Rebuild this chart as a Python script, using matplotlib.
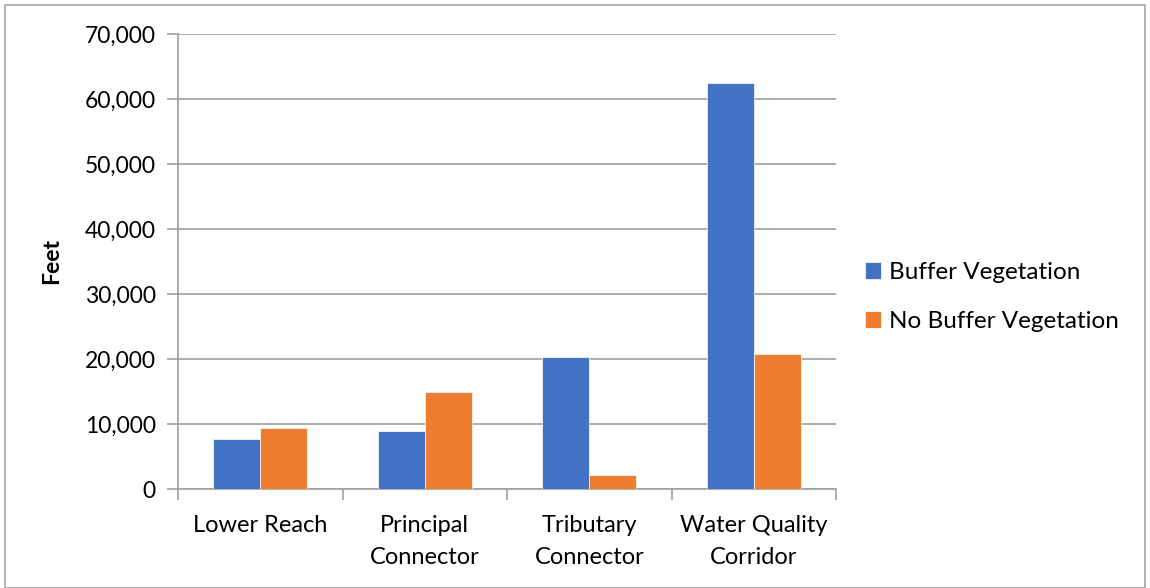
import matplotlib.pyplot as plt
import numpy as np
from matplotlib.patches import Rectangle

categories = ["Lower Reach", "Principal\nConnector", "Tributary\nConnector", "Water Quality\nCorridor"]
buffer_veg = [7700, 8900, 20300, 62400]
no_buffer_veg = [9400, 14900, 2200, 20800]
yticks = [0, 10000, 20000, 30000, 40000, 50000, 60000, 70000]

plt.rcParams['font.family'] = ['Lato', 'DejaVu Sans']

fig = plt.figure(figsize=(11.5, 5.88), dpi=100)
ax = fig.add_axes([178 / 1150, 1 - 489 / 588, (836 - 178) / 1150, (489 - 34) / 588])

# chart area border
fig.patches.append(Rectangle((5 / 1150, 0), 1140 / 1150, 583 / 588, transform=fig.transFigure,
                             fill=False, edgecolor='#a6a6a6', linewidth=1.2))

x = np.arange(len(categories))
w = 0.286
ax.bar(x - w / 2, buffer_veg, w, color='#4472C4', label='Buffer Vegetation',
       edgecolor='white', linewidth=0.5, zorder=3)
ax.bar(x + w / 2, no_buffer_veg, w, color='#ED7D31', label='No Buffer Vegetation',
       edgecolor='white', linewidth=0.5, zorder=3)

ax.set_xlim(-0.5, len(categories) - 0.5)
ax.set_ylim(0, 70000)
ax.set_yticks(yticks)
ax.set_yticklabels([f"{v:,}" for v in yticks], fontsize=16.5)
ax.yaxis.grid(True, color='#a0a0a0', linewidth=1.2, zorder=0)

ax.set_xticks(x)
ax.set_xticklabels(categories, fontsize=17, linespacing=1.65)
ax.set_xticks(np.arange(len(categories) + 1) - 0.5, minor=True)
ax.tick_params(axis='x', which='major', length=0, pad=19)
ax.tick_params(axis='x', which='minor', length=8, width=1.2, color='#a0a0a0')
ax.tick_params(axis='y', length=8, width=1.2, color='#a0a0a0', pad=8)

for s in ['top', 'right']:
    ax.spines[s].set_visible(False)
for s in ['left', 'bottom']:
    ax.spines[s].set_color('#a0a0a0')
    ax.spines[s].set_linewidth(1.2)

ax.set_ylabel('Feet', fontsize=16.5, fontweight='bold', labelpad=16)

fig.legend(*ax.get_legend_handles_labels(), loc='center left',
           bbox_to_anchor=(843 / 1150, 1 - 297 / 588), frameon=False, fontsize=17.5,
           handlelength=0.65, handleheight=0.65, handletextpad=0.35, labelspacing=1.15)

fig.savefig('out.png', dpi=100)
